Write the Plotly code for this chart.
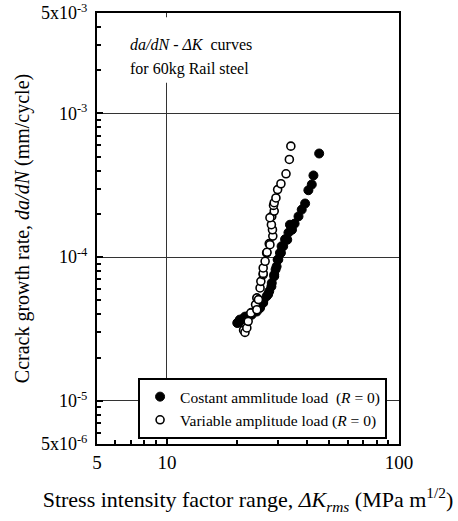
import plotly.graph_objects as go

# Constant amplitude load (filled circles)
k_const = [20.1, 20.3, 20.6, 20.6, 21.2, 21.7, 22.1, 23.1, 23.2, 24.4, 24.7, 25.2,
           26.0, 26.0, 26.9, 27.3, 27.6, 28.2, 28.3, 29.0, 29.0, 29.4, 29.7, 30.0,
           30.2, 30.7, 31.0, 31.2, 31.7, 32.3, 33.0, 33.4, 33.9, 34.6, 35.5, 36.9,
           38.1, 39.4, 40.7, 42.1, 42.8, 45.3]
dadn_const = [3.48e-5, 3.50e-5, 3.57e-5, 3.67e-5, 3.70e-5, 3.85e-5, 3.85e-5, 4.10e-5,
              3.97e-5, 4.18e-5, 4.44e-5, 4.42e-5, 4.80e-5, 4.92e-5, 5.34e-5, 5.50e-5,
              5.78e-5, 6.24e-5, 6.60e-5, 7.35e-5, 7.55e-5, 8.20e-5, 8.60e-5, 9.60e-5,
              9.60e-5, 1.07e-4, 1.07e-4, 1.19e-4, 1.19e-4, 1.33e-4, 1.32e-4, 1.48e-4,
              1.68e-4, 1.55e-4, 1.71e-4, 1.92e-4, 2.14e-4, 2.36e-4, 2.92e-4, 3.20e-4,
              3.70e-4, 5.26e-4]

# Variable amplitude load (open circles)
k_var = [21.4, 21.7, 22.1, 22.4, 23.0, 24.1, 24.4, 24.4, 24.8, 25.2, 25.4, 26.0,
         26.0, 26.0, 26.5, 26.9, 27.0, 27.6, 27.8, 28.6, 28.5, 28.2, 28.3, 27.8,
         29.0, 28.8, 29.0, 29.5, 30.0, 31.0, 32.6, 33.7, 34.2]
dadn_var = [3.10e-5, 2.99e-5, 3.21e-5, 3.57e-5, 4.08e-5, 4.67e-5, 4.30e-5, 5.20e-5,
            5.06e-5, 6.10e-5, 6.78e-5, 7.55e-5, 7.70e-5, 8.40e-5, 9.35e-5, 1.07e-4,
            1.08e-4, 1.24e-4, 1.22e-4, 1.40e-4, 1.55e-4, 1.68e-4, 1.92e-4, 1.88e-4,
            2.09e-4, 2.29e-4, 2.39e-4, 2.58e-4, 2.95e-4, 3.24e-4, 3.80e-4, 4.78e-4,
            5.92e-4]

x_tickvals = [5, 10, 100]
x_ticktext = ["5", "10", "100"]
x_minor = [6, 7, 8, 9, 20, 30, 40, 50, 60, 70, 80, 90]
y_tickvals = [5e-6, 1e-5, 1e-4, 1e-3, 5e-3]
y_ticktext = ["5x10<sup>-6</sup>", "10<sup>-5</sup>", "10<sup>-4</sup>",
              "10<sup>-3</sup>", "5x10<sup>-3</sup>"]
y_minor = [6e-6, 7e-6, 8e-6, 9e-6, 2e-5, 3e-5, 4e-5, 5e-5, 6e-5, 7e-5, 8e-5, 9e-5,
           2e-4, 3e-4, 4e-4, 5e-4, 6e-4, 7e-4, 8e-4, 9e-4, 2e-3, 3e-3, 4e-3]

inset_lines = ["<i>da/dN</i> - <i>ΔK</i>  curves", "for 60kg Rail steel"]

FONT = "Liberation Serif"

fig = go.Figure()
fig.add_trace(go.Scatter(
    x=k_const, y=dadn_const, mode="markers",
    name="Costant ammlitude load  (<i>R</i> = 0)",
    marker=dict(symbol="circle", size=9, color="black",
                line=dict(color="black", width=1)),
))
fig.add_trace(go.Scatter(
    x=k_var, y=dadn_var, mode="markers",
    name="Variable amplitude load (<i>R</i> = 0)",
    marker=dict(symbol="circle", size=8, color="white",
                line=dict(color="black", width=1.6)),
))

# white patch hiding the grid line behind the inset text
fig.add_shape(type="rect", xref="x domain", yref="y domain",
              x0=0.08, x1=0.6, y0=0.838, y1=0.99,
              fillcolor="white", line=dict(width=0), layer="above")

for txt, yy in zip(inset_lines, [0.926, 0.871]):
    fig.add_annotation(
        xref="paper", yref="paper", x=0.102, y=yy, xanchor="left", yanchor="middle",
        align="left", showarrow=False, text=txt,
        font=dict(family=FONT, size=16, color="black"),
    )

fig.update_layout(
    width=458, height=521,
    margin=dict(l=97, r=59, t=13, b=77),
    paper_bgcolor="white", plot_bgcolor="white",
    font=dict(family=FONT, size=16, color="black"),
    showlegend=True,
    legend=dict(
        x=0.136, y=0.153, xanchor="left", yanchor="top",
        bgcolor="white", bordercolor="black", borderwidth=2,
        font=dict(family=FONT, size=15.5, color="black"),
        tracegroupgap=0,
    ),
    xaxis=dict(
        type="log", range=[0.69897, 2.0], automargin=False,
        tickvals=x_tickvals, ticktext=x_ticktext,
        ticks="inside", ticklen=6, tickwidth=1.5, tickcolor="black",
        showgrid=True, gridcolor="#333", gridwidth=1,
        showline=True, linecolor="black", linewidth=2, mirror=True,
        zeroline=False,
        minor=dict(tickvals=x_minor, ticks="inside", ticklen=4,
                   tickwidth=1.5, tickcolor="black", showgrid=False),
        tickfont=dict(family=FONT, size=19),
        title=dict(
            text="Stress intensity factor range, <i>ΔK</i><sub><i>rms</i></sub> (MPa m<sup>1/2</sup>)",
            font=dict(family=FONT, size=22), standoff=20),
    ),
    yaxis=dict(
        type="log", range=[-5.30103, -2.30103], automargin=False,
        tickvals=y_tickvals, ticktext=y_ticktext,
        ticks="inside", ticklen=6, tickwidth=1.5, tickcolor="black",
        showgrid=True, gridcolor="#333", gridwidth=1,
        showline=True, linecolor="black", linewidth=2, mirror=True,
        zeroline=False,
        minor=dict(tickvals=y_minor, ticks="inside", ticklen=4,
                   tickwidth=1.5, tickcolor="black", showgrid=False),
        tickfont=dict(family=FONT, size=18),
        ticklabelstandoff=4,
        title=dict(text="Ccrack growth rate, <i>da/dN</i> (mm/cycle)",
                   font=dict(family=FONT, size=20), standoff=6),
    ),
)

fig.write_html("out.html")
